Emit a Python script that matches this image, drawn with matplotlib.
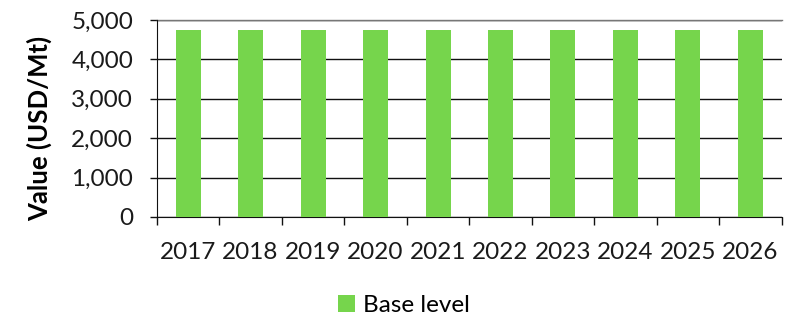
import matplotlib
matplotlib.use("Agg")
import matplotlib.pyplot as plt
import numpy as np
from matplotlib.patches import Patch

years = ["2017", "2018", "2019", "2020", "2021", "2022", "2023", "2024", "2025", "2026"]
base_level = [4750, 4750, 4750, 4750, 4750, 4750, 4750, 4750, 4750, 4750]
y_ticks = [0, 1000, 2000, 3000, 4000, 5000]
series_name = "Base level"
bar_color = "#76D54C"

plt.rcParams["font.family"] = ["Lato", "DejaVu Sans"]

fig = plt.figure(figsize=(7.92, 3.2), dpi=100)
ax = fig.add_axes([0.198, 0.322, 0.789, 0.6155])

x = np.arange(len(years))
ax.bar(x, base_level, width=0.4, color=bar_color, zorder=3)

ax.set_xlim(-0.5, len(years) - 0.5)
ax.set_ylim(0, 5000)
ax.set_yticks(y_ticks)
ax.set_yticklabels([f"{v:,}" for v in y_ticks], fontsize=17.5, color="#1a1a1a")
ax.yaxis.grid(True, color="#111111", linewidth=1.0, zorder=1)
ax.tick_params(axis="y", length=5, width=1, color="#111111", pad=12)

# category boundaries carry the tick marks, centres carry the labels
ax.set_xticks(np.arange(-0.5, len(years)), minor=False)
ax.set_xticklabels([])
ax.set_xticks(x, minor=True)
ax.set_xticklabels(years, minor=True, fontsize=17.5, color="#1a1a1a")
ax.tick_params(axis="x", which="major", length=6, width=1, color="#111111")
ax.tick_params(axis="x", which="minor", length=0, pad=18)

for side in ["top", "right"]:
    ax.spines[side].set_visible(False)
ax.spines["left"].set_color("#111111")
ax.spines["bottom"].set_color("#111111")
ax.axhline(5000, color="#777777", linewidth=1.0, zorder=2, clip_on=False)

ax.set_ylabel("Value (USD/Mt)", fontsize=18.5, fontweight="bold")
ax.yaxis.set_label_coords(-0.168, 0.447)

fig.legend(handles=[Patch(facecolor=bar_color, label=series_name)],
           loc="center", bbox_to_anchor=(0.51, 0.045), frameon=False,
           fontsize=17.5, handlelength=0.7, handleheight=0.7, handletextpad=0.35)

fig.savefig("out.png", dpi=100)
